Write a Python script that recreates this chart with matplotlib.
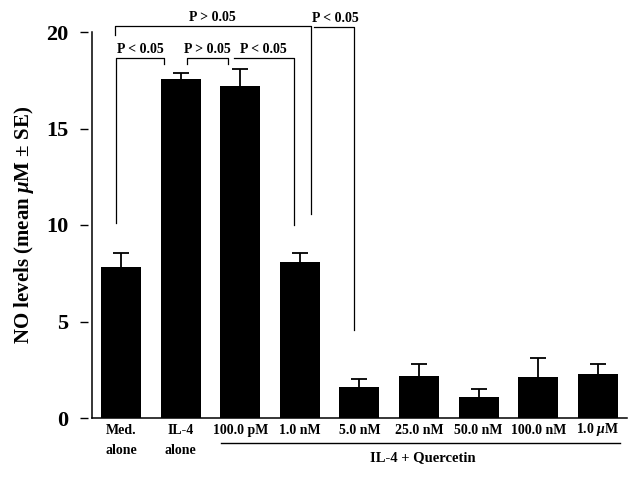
import matplotlib
matplotlib.use("Agg")
import matplotlib.pyplot as plt
import matplotlib.transforms as mtransforms
import numpy as np

# ── Data ──────────────────────────────────────────────────────────────────────
groups = ["Med.\nalone", "IL-4\nalone", "100.0 pM", "1.0 nM", "5.0 nM",
          "25.0 nM", "50.0 nM", "100.0 nM", "1.0 $\\mu$M"]
no_mean = [7.8, 17.55, 17.2, 8.1, 1.6, 2.2, 1.1, 2.1, 2.3]
no_se = [0.75, 0.35, 0.9, 0.45, 0.4, 0.6, 0.4, 1.0, 0.5]

# brackets: (x_left, x_right, y_top, y_left_end, y_right_end, label, label_x)
brackets = [
    (-0.10, 3.18, 20.31, 19.84, 10.57, "P > 0.05", 1.53),
    (-0.08, 0.72, 18.65, 10.10, 18.34, "P < 0.05", 0.32),
    (1.11, 1.80, 18.65, 18.34, 18.34, "P > 0.05", 1.45),
    (1.89, 2.90, 18.65, 18.65, 10.00, "P < 0.05", 2.39),
    (3.23, 3.91, 20.26, 20.26, 4.56, "P < 0.05", 3.59),
]

# ── Style ─────────────────────────────────────────────────────────────────────
plt.rcParams["font.family"] = ["Liberation Serif", "DejaVu Serif"]
plt.rcParams["font.weight"] = "bold"
plt.rcParams["axes.labelweight"] = "bold"
plt.rcParams["mathtext.fontset"] = "custom"
plt.rcParams["mathtext.rm"] = "Liberation Serif:bold"
plt.rcParams["mathtext.it"] = "Liberation Serif:italic:bold"
plt.rcParams["mathtext.bf"] = "Liberation Serif:bold"

fig = plt.figure(figsize=(6.42, 4.78), dpi=100)
ax = fig.add_axes([92 / 642, 60 / 478, (627 - 92) / 642, 386 / 478])

x = np.arange(len(groups))
ax.bar(x, no_mean, width=0.67, color="black", zorder=2)
_, caps, _ = ax.errorbar(x, no_mean, yerr=[np.zeros(len(no_se)), no_se],
                         fmt="none", ecolor="black", elinewidth=1.3,
                         capsize=6, capthick=1.3, zorder=1)
caps[0].set_visible(False)  # only the upper cap

xmin, xmax = -0.487, 8.49
ax.set_xlim(xmin, xmax)
ax.set_ylim(0, 20)

# detached left ticks: move (hidden) spine outward, draw the real one by hand
for side in ["top", "right", "bottom", "left"]:
    ax.spines[side].set_visible(False)
ax.spines["left"].set_position(("outward", 3))
ax.plot([xmin, xmin], [0, 20], color="black", lw=1.1, clip_on=False)
ax.plot([xmin, xmax], [0, 0], color="black", lw=1.1, clip_on=False)

ax.set_yticks([0, 5, 10, 15, 20])
ax.tick_params(axis="y", length=6, width=1.0, pad=8, labelsize=16)
ax.set_xticks(x)
ax.set_xticklabels(groups, fontsize=10, linespacing=1.7)
ax.tick_params(axis="x", length=0, pad=4)
for lab in ax.get_xticklabels():
    lab.set_verticalalignment("top")
    if "mu" in lab.get_text():
        # mathtext label sits a bit low, nudge it up to the others
        lab.set_transform(lab.get_transform() + mtransforms.ScaledTranslation(
            0, 3 / 100, fig.dpi_scale_trans))

ax.set_ylabel("NO levels (mean $\\mu$M ± SE)", fontsize=15, labelpad=7)

# significance brackets
for xl, xr, ytop, yl, yr, label, lx in brackets:
    ax.plot([xl, xl, xr, xr], [yl, ytop, ytop, yr], color="black",
            lw=0.9, clip_on=False)
    ax.text(lx, ytop + 0.1, label, ha="center", va="bottom",
            fontsize=10, clip_on=False)

# treatment group underline
trans = mtransforms.blended_transform_factory(ax.transData, ax.transAxes)
ax.plot([1.68, 8.37], [-0.065, -0.065], color="black", lw=1.0,
        transform=trans, clip_on=False)
ax.text(5.07, -0.102, "IL-4 + Quercetin", ha="center", va="center",
        fontsize=10.5, transform=trans)

fig.savefig("out.png", dpi=100)
